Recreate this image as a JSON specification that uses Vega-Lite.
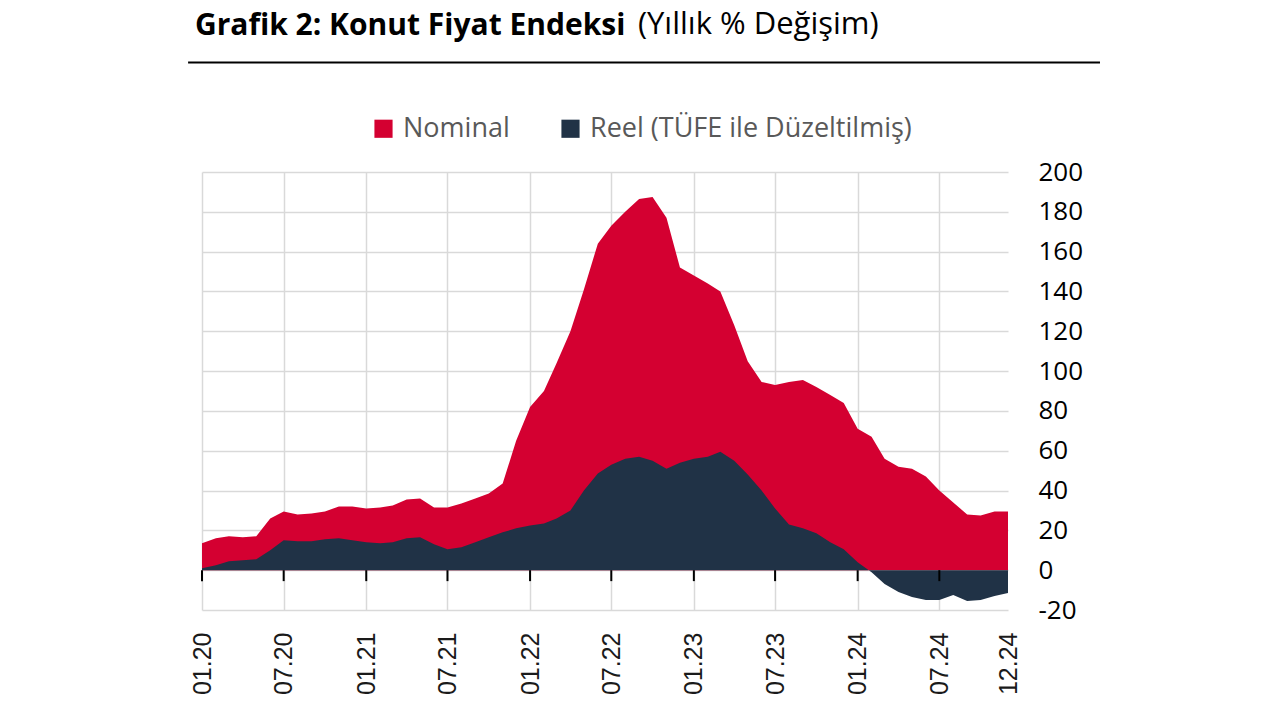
{
  "$schema": "https://vega.github.io/schema/vega-lite/v6.json",
  "width": 806,
  "height": 438,
  "autosize": {"type": "none"},
  "padding": {"left": 202, "top": 172, "right": 272, "bottom": 110},
  "background": "white",
  "config": {
    "view": {"stroke": null},
    "axisY": {"labelOverlap": false, "labelFlush": false, "labelFont": "Open Sans", "labelFontSize": 26, "labelColor": "black", "labelPadding": 30, "domain": false, "ticks": false, "gridColor": "#d9d9d9", "gridWidth": 1.5}
  },
  "title": {
    "text": "Grafik 2: Konut Fiyat Endeksi",
    "subtitle": "\u200b\u00a0\u00a0\u00a0\u00a0\u00a0\u00a0\u00a0\u00a0\u00a0\u00a0\u00a0\u00a0\u00a0\u00a0\u00a0\u00a0\u00a0\u00a0\u00a0\u00a0\u00a0\u00a0\u00a0\u00a0\u00a0\u00a0\u00a0\u00a0\u00a0\u00a0\u00a0\u00a0\u00a0\u00a0\u00a0\u00a0\u00a0\u00a0\u00a0\u00a0\u00a0\u00a0\u00a0\u00a0\u00a0\u00a0\u00a0\u00a0\u00a0\u00a0\u00a0\u00a0\u00a0\u00a0\u00a0(Yıllık % Değişim)",
    "anchor": "start",
    "frame": "group",
    "dx": -7,
    "offset": 19,
    "font": "Open Sans",
    "fontSize": 30,
    "fontWeight": "bold",
    "color": "black",
    "subtitleFont": "Open Sans",
    "subtitleFontSize": 31,
    "subtitleColor": "black",
    "subtitlePadding": -31
  },
  "datasets": {
    "hpi": [
      {"m": "2020-01", "s": "Nominal", "v": 13.5}, {"m": "2020-02", "s": "Nominal", "v": 16}, {"m": "2020-03", "s": "Nominal", "v": 17}, {"m": "2020-04", "s": "Nominal", "v": 16.5}, {"m": "2020-05", "s": "Nominal", "v": 17}, {"m": "2020-06", "s": "Nominal", "v": 26}, {"m": "2020-07", "s": "Nominal", "v": 29.5}, {"m": "2020-08", "s": "Nominal", "v": 28}, {"m": "2020-09", "s": "Nominal", "v": 28.5}, {"m": "2020-10", "s": "Nominal", "v": 29.5}, {"m": "2020-11", "s": "Nominal", "v": 32}, {"m": "2020-12", "s": "Nominal", "v": 32},
      {"m": "2021-01", "s": "Nominal", "v": 31}, {"m": "2021-02", "s": "Nominal", "v": 31.5}, {"m": "2021-03", "s": "Nominal", "v": 32.5}, {"m": "2021-04", "s": "Nominal", "v": 35.5}, {"m": "2021-05", "s": "Nominal", "v": 36}, {"m": "2021-06", "s": "Nominal", "v": 31.5}, {"m": "2021-07", "s": "Nominal", "v": 31.5}, {"m": "2021-08", "s": "Nominal", "v": 33.5}, {"m": "2021-09", "s": "Nominal", "v": 36}, {"m": "2021-10", "s": "Nominal", "v": 38.5}, {"m": "2021-11", "s": "Nominal", "v": 43.5}, {"m": "2021-12", "s": "Nominal", "v": 65},
      {"m": "2022-01", "s": "Nominal", "v": 82}, {"m": "2022-02", "s": "Nominal", "v": 90}, {"m": "2022-03", "s": "Nominal", "v": 104}, {"m": "2022-04", "s": "Nominal", "v": 120}, {"m": "2022-05", "s": "Nominal", "v": 141}, {"m": "2022-06", "s": "Nominal", "v": 164}, {"m": "2022-07", "s": "Nominal", "v": 173}, {"m": "2022-08", "s": "Nominal", "v": 180}, {"m": "2022-09", "s": "Nominal", "v": 186.5}, {"m": "2022-10", "s": "Nominal", "v": 187.5}, {"m": "2022-11", "s": "Nominal", "v": 177}, {"m": "2022-12", "s": "Nominal", "v": 152},
      {"m": "2023-01", "s": "Nominal", "v": 148}, {"m": "2023-02", "s": "Nominal", "v": 144}, {"m": "2023-03", "s": "Nominal", "v": 140}, {"m": "2023-04", "s": "Nominal", "v": 123}, {"m": "2023-05", "s": "Nominal", "v": 105}, {"m": "2023-06", "s": "Nominal", "v": 94.5}, {"m": "2023-07", "s": "Nominal", "v": 93}, {"m": "2023-08", "s": "Nominal", "v": 94.5}, {"m": "2023-09", "s": "Nominal", "v": 95.5}, {"m": "2023-10", "s": "Nominal", "v": 92}, {"m": "2023-11", "s": "Nominal", "v": 88}, {"m": "2023-12", "s": "Nominal", "v": 84},
      {"m": "2024-01", "s": "Nominal", "v": 71}, {"m": "2024-02", "s": "Nominal", "v": 67}, {"m": "2024-03", "s": "Nominal", "v": 56}, {"m": "2024-04", "s": "Nominal", "v": 52}, {"m": "2024-05", "s": "Nominal", "v": 51}, {"m": "2024-06", "s": "Nominal", "v": 47}, {"m": "2024-07", "s": "Nominal", "v": 40}, {"m": "2024-08", "s": "Nominal", "v": 34}, {"m": "2024-09", "s": "Nominal", "v": 28}, {"m": "2024-10", "s": "Nominal", "v": 27.5}, {"m": "2024-11", "s": "Nominal", "v": 29.5}, {"m": "2024-12", "s": "Nominal", "v": 29.5},
      {"m": "2020-01", "s": "Reel (TÜFE ile Düzeltilmiş)", "v": 1}, {"m": "2020-02", "s": "Reel (TÜFE ile Düzeltilmiş)", "v": 2.5}, {"m": "2020-03", "s": "Reel (TÜFE ile Düzeltilmiş)", "v": 4.5}, {"m": "2020-04", "s": "Reel (TÜFE ile Düzeltilmiş)", "v": 5}, {"m": "2020-05", "s": "Reel (TÜFE ile Düzeltilmiş)", "v": 5.5}, {"m": "2020-06", "s": "Reel (TÜFE ile Düzeltilmiş)", "v": 10}, {"m": "2020-07", "s": "Reel (TÜFE ile Düzeltilmiş)", "v": 15}, {"m": "2020-08", "s": "Reel (TÜFE ile Düzeltilmiş)", "v": 14.5}, {"m": "2020-09", "s": "Reel (TÜFE ile Düzeltilmiş)", "v": 14.5}, {"m": "2020-10", "s": "Reel (TÜFE ile Düzeltilmiş)", "v": 15.5}, {"m": "2020-11", "s": "Reel (TÜFE ile Düzeltilmiş)", "v": 16}, {"m": "2020-12", "s": "Reel (TÜFE ile Düzeltilmiş)", "v": 15},
      {"m": "2021-01", "s": "Reel (TÜFE ile Düzeltilmiş)", "v": 14}, {"m": "2021-02", "s": "Reel (TÜFE ile Düzeltilmiş)", "v": 13.5}, {"m": "2021-03", "s": "Reel (TÜFE ile Düzeltilmiş)", "v": 14}, {"m": "2021-04", "s": "Reel (TÜFE ile Düzeltilmiş)", "v": 16}, {"m": "2021-05", "s": "Reel (TÜFE ile Düzeltilmiş)", "v": 16.5}, {"m": "2021-06", "s": "Reel (TÜFE ile Düzeltilmiş)", "v": 13}, {"m": "2021-07", "s": "Reel (TÜFE ile Düzeltilmiş)", "v": 10.5}, {"m": "2021-08", "s": "Reel (TÜFE ile Düzeltilmiş)", "v": 11.5}, {"m": "2021-09", "s": "Reel (TÜFE ile Düzeltilmiş)", "v": 14}, {"m": "2021-10", "s": "Reel (TÜFE ile Düzeltilmiş)", "v": 16.5}, {"m": "2021-11", "s": "Reel (TÜFE ile Düzeltilmiş)", "v": 19}, {"m": "2021-12", "s": "Reel (TÜFE ile Düzeltilmiş)", "v": 21},
      {"m": "2022-01", "s": "Reel (TÜFE ile Düzeltilmiş)", "v": 22.5}, {"m": "2022-02", "s": "Reel (TÜFE ile Düzeltilmiş)", "v": 23.5}, {"m": "2022-03", "s": "Reel (TÜFE ile Düzeltilmiş)", "v": 26}, {"m": "2022-04", "s": "Reel (TÜFE ile Düzeltilmiş)", "v": 30}, {"m": "2022-05", "s": "Reel (TÜFE ile Düzeltilmiş)", "v": 40}, {"m": "2022-06", "s": "Reel (TÜFE ile Düzeltilmiş)", "v": 48.5}, {"m": "2022-07", "s": "Reel (TÜFE ile Düzeltilmiş)", "v": 53}, {"m": "2022-08", "s": "Reel (TÜFE ile Düzeltilmiş)", "v": 56}, {"m": "2022-09", "s": "Reel (TÜFE ile Düzeltilmiş)", "v": 57}, {"m": "2022-10", "s": "Reel (TÜFE ile Düzeltilmiş)", "v": 55}, {"m": "2022-11", "s": "Reel (TÜFE ile Düzeltilmiş)", "v": 51}, {"m": "2022-12", "s": "Reel (TÜFE ile Düzeltilmiş)", "v": 54},
      {"m": "2023-01", "s": "Reel (TÜFE ile Düzeltilmiş)", "v": 56}, {"m": "2023-02", "s": "Reel (TÜFE ile Düzeltilmiş)", "v": 57}, {"m": "2023-03", "s": "Reel (TÜFE ile Düzeltilmiş)", "v": 59.5}, {"m": "2023-04", "s": "Reel (TÜFE ile Düzeltilmiş)", "v": 55}, {"m": "2023-05", "s": "Reel (TÜFE ile Düzeltilmiş)", "v": 48}, {"m": "2023-06", "s": "Reel (TÜFE ile Düzeltilmiş)", "v": 40}, {"m": "2023-07", "s": "Reel (TÜFE ile Düzeltilmiş)", "v": 31}, {"m": "2023-08", "s": "Reel (TÜFE ile Düzeltilmiş)", "v": 23}, {"m": "2023-09", "s": "Reel (TÜFE ile Düzeltilmiş)", "v": 21}, {"m": "2023-10", "s": "Reel (TÜFE ile Düzeltilmiş)", "v": 18.5}, {"m": "2023-11", "s": "Reel (TÜFE ile Düzeltilmiş)", "v": 14}, {"m": "2023-12", "s": "Reel (TÜFE ile Düzeltilmiş)", "v": 10.5},
      {"m": "2024-01", "s": "Reel (TÜFE ile Düzeltilmiş)", "v": 4}, {"m": "2024-02", "s": "Reel (TÜFE ile Düzeltilmiş)", "v": -1}, {"m": "2024-03", "s": "Reel (TÜFE ile Düzeltilmiş)", "v": -7}, {"m": "2024-04", "s": "Reel (TÜFE ile Düzeltilmiş)", "v": -11}, {"m": "2024-05", "s": "Reel (TÜFE ile Düzeltilmiş)", "v": -13.5}, {"m": "2024-06", "s": "Reel (TÜFE ile Düzeltilmiş)", "v": -15}, {"m": "2024-07", "s": "Reel (TÜFE ile Düzeltilmiş)", "v": -15}, {"m": "2024-08", "s": "Reel (TÜFE ile Düzeltilmiş)", "v": -12.5}, {"m": "2024-09", "s": "Reel (TÜFE ile Düzeltilmiş)", "v": -15.5}, {"m": "2024-10", "s": "Reel (TÜFE ile Düzeltilmiş)", "v": -15}, {"m": "2024-11", "s": "Reel (TÜFE ile Düzeltilmiş)", "v": -13}, {"m": "2024-12", "s": "Reel (TÜFE ile Düzeltilmiş)", "v": -11.5}
    ],
    "ticks": [
      {"m": "2020-01"}, {"m": "2020-07"}, {"m": "2021-01"}, {"m": "2021-07"}, {"m": "2022-01"}, {"m": "2022-07"}, {"m": "2023-01"}, {"m": "2023-07"}, {"m": "2024-01"}, {"m": "2024-07"}
    ],
    "underline": [
      {"a": "2019-12-01", "b": "2025-06-24"}
    ]
  },
  "layer": [
    {
      "data": {"name": "hpi", "format": {"parse": {"m": "date:'%Y-%m'"}}},
      "mark": {"type": "area", "interpolate": "linear", "strokeWidth": 0},
      "encoding": {
        "x": {
          "field": "m",
          "type": "temporal",
          "scale": {"domain": [{"year": 2020, "month": 1, "date": 1}, {"year": 2024, "month": 12, "date": 1}]},
          "axis": {
            "title": null,
            "orient": "bottom",
            "values": [
              {"year": 2020, "month": 1, "date": 1}, {"year": 2020, "month": 7, "date": 1},
              {"year": 2021, "month": 1, "date": 1}, {"year": 2021, "month": 7, "date": 1},
              {"year": 2022, "month": 1, "date": 1}, {"year": 2022, "month": 7, "date": 1},
              {"year": 2023, "month": 1, "date": 1}, {"year": 2023, "month": 7, "date": 1},
              {"year": 2024, "month": 1, "date": 1}, {"year": 2024, "month": 7, "date": 1},
              {"year": 2024, "month": 12, "date": 1}
            ],
            "format": "%m.%y",
            "labelAngle": -90,
            "labelFont": "Liberation Sans",
            "labelFontSize": 25,
            "labelColor": "#1a1a1a",
            "labelPadding": 22,
            "labelOverlap": false,
            "labelFlush": false,
            "domain": false,
            "ticks": false,
            "grid": true,
            "gridColor": "#d9d9d9",
            "gridWidth": 1.5,
            "gridOpacity": {"condition": {"test": "month(datum.value) == 11", "value": 0}, "value": 1}
          }
        },
        "y": {
          "field": "v",
          "type": "quantitative",
          "stack": null,
          "scale": {"domain": [-20, 200], "nice": false},
          "axis": {"title": null, "orient": "right", "values": [-20, 0, 20, 40, 60, 80, 100, 120, 140, 160, 180, 200], "labelExpr": "'' + datum.value", "labelOverlap": false, "grid": true}
        },
        "y2": {"datum": 0},
        "color": {
          "field": "s",
          "type": "nominal",
          "scale": {"domain": ["Nominal", "Reel (TÜFE ile Düzeltilmiş)"], "range": ["#D40031", "#203246"]},
          "legend": {
            "title": null,
            "orient": "none",
            "legendX": 168,
            "legendY": -57,
            "direction": "horizontal",
            "symbolType": "square",
            "symbolSize": 330,
            "symbolStrokeWidth": 0,
            "labelFont": "Open Sans",
            "labelFontSize": 27,
            "labelColor": "#595959",
            "labelOffset": 6,
            "columnPadding": 47,
            "labelLimit": 500
          }
        }
      }
    },
    {
      "mark": {"type": "rule", "color": "black", "strokeWidth": 2.5},
      "encoding": {
        "y": {"datum": 0, "axis": {"title": null, "orient": "right", "values": [-20, 0, 20, 40, 60, 80, 100, 120, 140, 160, 180, 200], "labelExpr": "'' + datum.value", "labelOverlap": false, "grid": true}}
      }
    },
    {
      "data": {"name": "ticks", "format": {"parse": {"m": "date:'%Y-%m'"}}},
      "mark": {"type": "rule", "color": "black", "strokeWidth": 2},
      "encoding": {
        "x": {"field": "m", "type": "temporal"},
        "y": {"datum": 0, "axis": {"title": null, "orient": "right", "values": [-20, 0, 20, 40, 60, 80, 100, 120, 140, 160, 180, 200], "labelExpr": "'' + datum.value", "labelOverlap": false, "grid": true}},
        "y2": {"datum": -5.5}
      }
    },
    {
      "data": {"name": "underline", "format": {"parse": {"a": "date:'%Y-%m-%d'", "b": "date:'%Y-%m-%d'"}}},
      "mark": {"type": "rule", "color": "black", "strokeWidth": 2, "clip": false},
      "encoding": {
        "x": {"field": "a", "type": "temporal"},
        "x2": {"field": "b"},
        "y": {"datum": 255, "axis": {"title": null, "orient": "right", "values": [-20, 0, 20, 40, 60, 80, 100, 120, 140, 160, 180, 200], "labelExpr": "'' + datum.value", "labelOverlap": false, "grid": true}}
      }
    }
  ]
}
